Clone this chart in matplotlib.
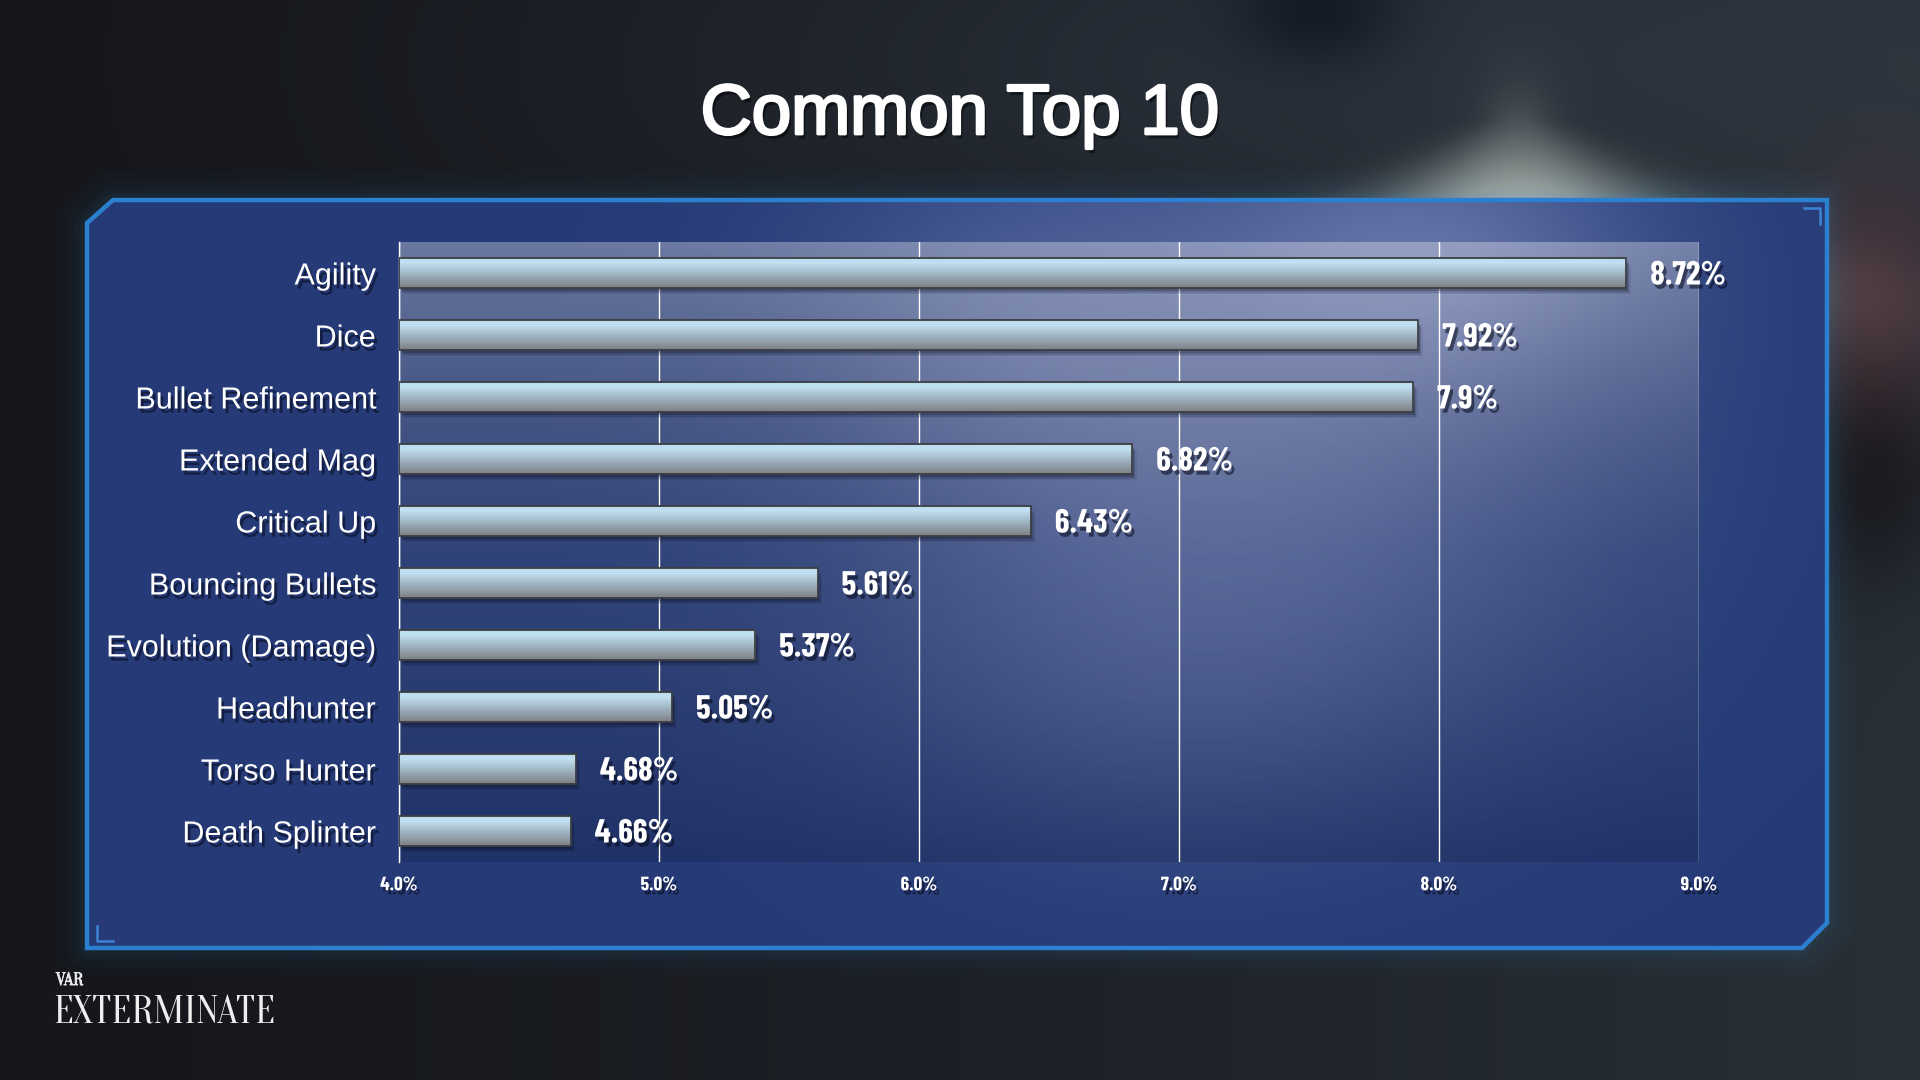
import numpy as np
import matplotlib

matplotlib.use("Agg")
import matplotlib.pyplot as plt
import matplotlib.patheffects as pe
from matplotlib import font_manager
from matplotlib.patches import Polygon

# ---------------------------------------------------------------- data
categories = ["Agility", "Dice", "Bullet Refinement", "Extended Mag", "Critical Up",
              "Bouncing Bullets", "Evolution (Damage)", "Headhunter", "Torso Hunter",
              "Death Splinter"]
shares = [8.72, 7.92, 7.90, 6.82, 6.43, 5.61, 5.37, 5.05, 4.68, 4.66]
share_labels = ["8.72%", "7.92%", "7.9%", "6.82%", "6.43%", "5.61%", "5.37%",
                "5.05%", "4.68%", "4.66%"]
x_ticks = [4.0, 5.0, 6.0, 7.0, 8.0, 9.0]
x_tick_labels = ["4.0%", "5.0%", "6.0%", "7.0%", "8.0%", "9.0%"]
title = "Common Top 10"

# ---------------------------------------------------------------- fonts
have = {f.name for f in font_manager.fontManager.ttflist}


def pick(cands, default="DejaVu Sans"):
    for c in cands:
        if c in have:
            return c
    return default


SANS = pick(["Liberation Sans", "Arimo", "DejaVu Sans"])
COND = pick(["Barlow Condensed", "Roboto Condensed", "DejaVu Sans"])
LOGO = pick(["Oranienbaum", "Stint Ultra Condensed", "Antic Didone", "Liberation Serif"])

shadow = [pe.SimplePatchShadow(offset=(2, -3), shadow_rgbFace="#050818", alpha=0.55),
          pe.Normal()]

# ---------------------------------------------------------------- canvas
W, H = 1920, 1080
fig = plt.figure(figsize=(19.2, 10.8), dpi=100)
bg = fig.add_axes([0, 0, 1, 1])
bg.set_xlim(0, W)
bg.set_ylim(H, 0)
bg.axis("off")

yy, xx = np.mgrid[0:H:270j, 0:W:480j]


def blob(cx, cy, sx, sy):
    return np.exp(-0.5 * (((xx - cx) / sx) ** 2 + ((yy - cy) / sy) ** 2))


left_c = np.array([0.085, 0.09, 0.11])
right_c = np.array([0.16, 0.19, 0.22])
t = (xx / W) ** 1.4
img = left_c[None, None, :] * (1 - t[..., None]) + right_c[None, None, :] * t[..., None]
# light cone behind the panel
cone = (np.exp(-0.5 * ((xx - 1520) / (25 + 0.9 * np.clip(yy - 120, 0, None))) ** 2)
        * np.exp(-0.5 * ((yy - 230) / 65) ** 2))
img += cone[..., None] * np.array([0.56, 0.56, 0.50])
img += blob(1300, 60, 500, 120)[..., None] * np.array([0.03, 0.04, 0.05])
img += blob(1880, 290, 60, 90)[..., None] * np.array([0.10, 0.0, 0.0])
img -= blob(1880, 480, 50, 80)[..., None] * np.array([0.06, 0.08, 0.09])
img -= blob(1320, 10, 60, 40)[..., None] * np.array([0.08, 0.08, 0.08])
img = np.clip(img, 0, 1)
bg.imshow(img, extent=(0, W, H, 0), interpolation="bilinear", aspect="auto", zorder=0)

frame_xy = [(113, 200), (1827, 200), (1827, 923), (1802, 948), (87, 948), (87, 223)]
for lw, a in [(40, 0.02), (28, 0.025), (18, 0.035), (10, 0.045)]:
    bg.add_patch(Polygon(frame_xy, closed=True, fill=False, edgecolor="#3c9be0",
                         lw=lw, alpha=a, joinstyle="round", zorder=1))
frame = Polygon(frame_xy, closed=True, facecolor="#253a76", edgecolor="none", zorder=2)
bg.add_patch(frame)

# soft light falling on the panel
glow = (0.42 * blob(1250, 420, 260, 220) + 0.30 * blob(1450, 250, 140, 90)
        + 0.15 * blob(1000, 330, 140, 110) + 0.12 * blob(1150, 700, 200, 120))
glow_rgba = np.zeros(glow.shape + (4,))
glow_rgba[..., :3] = [0.60, 0.64, 0.82]
glow_rgba[..., 3] = np.clip(glow, 0, 0.6)
gim = bg.imshow(glow_rgba, extent=(0, W, H, 0), interpolation="bilinear", aspect="auto",
                zorder=3)
gim.set_clip_path(frame)

# plot-area wash: light at the top, darker towards the bottom
ax_l, ax_r, ax_t, ax_b = 399, 1699, 242, 862
s = np.linspace(0, 1, 200)
wash = np.zeros((200, 1, 4))
wash[:, 0, 0] = np.interp(s, [0, 0.5, 1], [1.0, 0.6, 0.0])
wash[:, 0, 1] = np.interp(s, [0, 0.5, 1], [1.0, 0.6, 0.0])
wash[:, 0, 2] = np.interp(s, [0, 0.5, 1], [1.0, 0.55, 0.05])
wash[:, 0, 3] = np.interp(s, [0, 0.5, 1], [0.32, 0.10, 0.14])
bg.imshow(wash, extent=(ax_l, ax_r, ax_b, ax_t), interpolation="bilinear", aspect="auto",
          zorder=4)

bg.add_patch(Polygon(frame_xy, closed=True, fill=False, edgecolor="#2b81d0", lw=3.2,
                     joinstyle="miter", zorder=5))
bg.plot([1804, 1820, 1820], [208, 208, 224], color="#3b84d6", lw=1.8, zorder=5)
bg.plot([97, 97, 113], [926, 941, 941], color="#3b84d6", lw=1.8, zorder=5)

bg.set_xlim(0, W)
bg.set_ylim(H, 0)

# ---------------------------------------------------------------- title / logo
bg.text(960, 116, title, ha="center", va="center", fontsize=51, color="white",
        family=SANS, zorder=6,
        path_effects=[pe.SimplePatchShadow(offset=(2, -3), shadow_rgbFace="#000000", alpha=0.5),
                      pe.withStroke(linewidth=2.0, foreground="white")])
bg.text(56, 981, "VAR", ha="left", va="center", fontsize=13, color="#e8e8e8",
        family=LOGO, zorder=6,
        path_effects=[pe.withStroke(linewidth=0.6, foreground="#e8e8e8")])
bg.text(53, 1015, "EXTERMINATE", ha="left", va="center", fontsize=28.5, color="#eeeeee",
        family=LOGO, zorder=6)

# ---------------------------------------------------------------- chart
ax = fig.add_axes([ax_l / W, (H - ax_b) / H, (ax_r - ax_l) / W, (ax_b - ax_t) / H])
ax.set_zorder(2)
ax.patch.set_alpha(0)

x0 = x_ticks[0]
pos = np.arange(len(categories))
widths = [v - x0 for v in shares]
bar_h = 0.47

for k, (dy, a) in enumerate([(0.05, 0.22), (0.08, 0.14), (0.11, 0.08)]):
    ax.barh(pos + dy, widths, left=x0 + 0.006 * (k + 1), height=bar_h, color="#05081a",
            alpha=a, lw=0, zorder=2)

bars = ax.barh(pos, widths, left=x0, height=bar_h, facecolor="none",
               edgecolor="#3c3e42", lw=1.3, zorder=4)
g = np.linspace(0, 1, 64)
grad = np.zeros((64, 1, 3))
grad[:, 0, 0] = np.interp(g, [0, 0.15, 0.55, 1], [0.72, 0.76, 0.62, 0.49])
grad[:, 0, 1] = np.interp(g, [0, 0.15, 0.55, 1], [0.86, 0.88, 0.70, 0.50])
grad[:, 0, 2] = np.interp(g, [0, 0.15, 0.55, 1], [0.94, 0.95, 0.75, 0.52])
for p in bars:
    bx0, by0 = p.get_x(), p.get_y()
    ax.imshow(grad, extent=(bx0, bx0 + p.get_width(), by0 + p.get_height(), by0),
              aspect="auto", interpolation="bilinear", zorder=3)

for i, (v, lab) in enumerate(zip(shares, share_labels)):
    ax.text(v + 24 / 260, i + 0.04, lab, ha="left", va="center", fontsize=24,
            color="white", weight="bold", family=COND, zorder=5, path_effects=shadow)

ax.set_xlim(x0, x_ticks[-1])
ax.set_ylim(len(categories) - 0.5, -0.5)
ax.set_xticks(x_ticks)
ax.set_xticklabels(x_tick_labels, family=COND, weight="bold", fontsize=14, color="white")
ax.set_yticks(pos)
ax.set_yticklabels(categories, family=SANS, fontsize=22, color="white")
ax.tick_params(axis="x", length=0, pad=11)
ax.tick_params(axis="y", length=0, pad=17)
for lbl in ax.get_xticklabels() + ax.get_yticklabels():
    lbl.set_path_effects(shadow)
ax.grid(axis="x", color="white", lw=1.0, zorder=1)
ax.grid(axis="y", visible=False)
ax.set_axisbelow(True)
for side in ("top", "right", "bottom"):
    ax.spines[side].set_visible(False)
ax.spines["left"].set_color("white")
ax.spines["left"].set_linewidth(1.0)

fig.savefig("out.png", dpi=100)
